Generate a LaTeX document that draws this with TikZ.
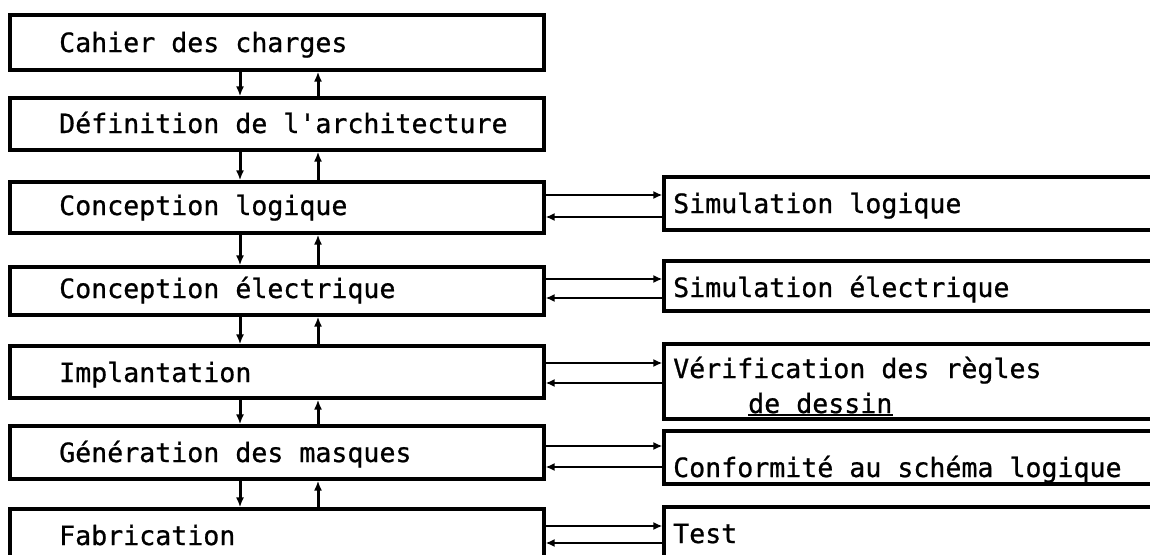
\documentclass[tikz,border=0pt]{standalone}
\usepackage{fontspec}
\setmonofont{DejaVu Sans Mono}[FakeBold=0.8]
\usetikzlibrary{arrows.meta}
\begin{document}
\begin{tikzpicture}[x=1pt,y=-1pt,
  box/.style={draw, line width=3.2pt, rectangle, inner sep=0pt},
  lbox/.style={box, minimum width=534pt},
  rbox/.style={box, minimum width=516pt},
  txt/.style={anchor=base west, inner sep=0pt, font=\ttfamily\fontsize{26.6}{30}\selectfont},
  varrow/.style={line width=3pt, -{Latex[length=10pt,width=8pt]}},
  harrow/.style={line width=2pt, -{Latex[length=9pt,width=8pt]}}]
\useasboundingbox (0,0) rectangle (1150,554);
\clip (0,0) rectangle (1150,554);
% left column
\node[lbox, minimum height=55pt] (L1) at (277,42.5) {};
\node[lbox, minimum height=52pt] (L2) at (277,124) {};
\node[lbox, minimum height=51pt] (L3) at (277,207.5) {};
\node[lbox, minimum height=48pt] (L4) at (277,291) {};
\node[lbox, minimum height=52pt] (L5) at (277,372) {};
\node[lbox, minimum height=53pt] (L6) at (277,452.5) {};
\node[lbox, minimum height=66pt] (L7) at (277,542) {};
% right column
\node[rbox, minimum height=53pt] (R3) at (922,203.5) {};
\node[rbox, minimum height=50pt] (R4) at (922,286) {};
\node[rbox, minimum height=75pt] (R5) at (922,381.5) {};
\node[rbox, minimum height=53pt] (R6) at (922,457.5) {};
\node[rbox, minimum height=68pt] (R7) at (922,541) {};
% texts
\node[txt] (t1) at (59,52) {Cahier des charges};
\node[txt] (t2) at (59,133) {Définition de l'architecture};
\node[txt] (t3) at (59,215) {Conception logique};
\node[txt] (t4) at (59,298) {Conception électrique};
\node[txt] (t5) at (59,382) {Implantation};
\node[txt] (t6) at (59,462) {Génération des masques};
\node[txt] (t7) at (59,545) {Fabrication};
\node[txt] (s3) at (673,213) {Simulation logique};
\node[txt] (s4) at (673,297) {Simulation électrique};
\node[txt] (s5) at (673,378) {Vérification des règles};
\node[txt] (s5b) at (748,413) {de dessin};
\node[txt] (s6) at (673,477) {Conformité au schéma logique};
\node[txt] (s7) at (673,543) {Test};
\draw[line width=1.8pt] ([yshift=-2pt]s5b.base west) -- ([yshift=-2pt]s5b.base east);
% vertical arrows
\coordinate (dx) at (240,0);
\coordinate (ux) at (318,0);
\foreach \a/\b in {L1/L2,L2/L3,L3/L4,L4/L5,L5/L6,L6/L7}{
  \draw[varrow] (\a.south -| dx) -- (\b.north -| dx);
  \draw[varrow] (\b.north -| ux) -- (\a.south -| ux);
}
% horizontal arrows
\foreach \i/\ya/\yb in {3/195/217,4/279/298,5/363/383,6/446/467,7/526/543}{
  \coordinate (ha\i) at (0,\ya);
  \coordinate (hb\i) at (0,\yb);
  \draw[harrow] (L\i.east |- ha\i) -- (R\i.west |- ha\i);
  \draw[harrow] (R\i.west |- hb\i) -- (L\i.east |- hb\i);
}
\end{tikzpicture}
\end{document}
